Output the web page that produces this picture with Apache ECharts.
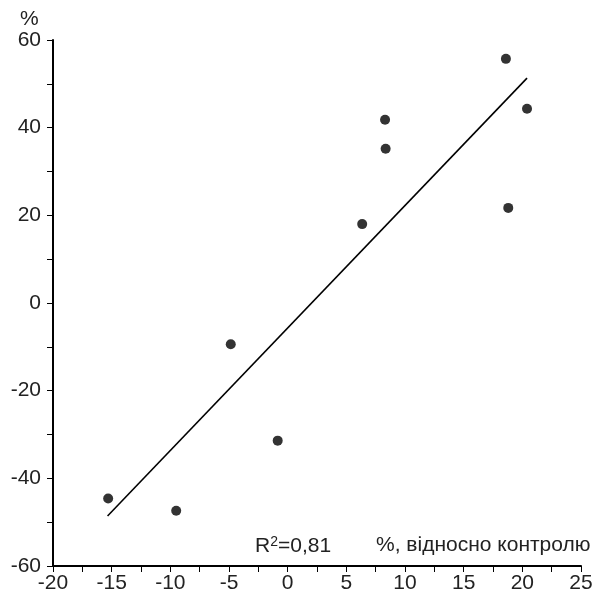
<!DOCTYPE html>
<html><head><meta charset="utf-8">
<script src="https://cdn.jsdelivr.net/npm/echarts@6/dist/echarts.min.js"></script>
<style>html,body{margin:0;padding:0;background:#fff}#c{width:598px;height:595px}</style>
</head><body><div id="c"></div>
<script>
const pointsX = [-15.3, -9.5, -4.85, -0.85, 6.35, 8.3, 8.35, 18.6, 18.8, 20.4];
const pointsY = [-44.6, -47.4, -9.4, -31.4, 18.0, 41.8, 35.2, 55.7, 21.7, 44.3];
const trendX = [-15.35, 20.4];
const trendY = [-48.6, 51.3];
const xTicks = [-20, -15, -10, -5, 0, 5, 10, 15, 20, 25];
const yTicks = [-60, -40, -20, 0, 20, 40, 60];
const r2Text = '0,81';
const xTitle = '%, відносно контролю';
const yTitle = '%';

const chart = echarts.init(document.getElementById('c'), null, {renderer: 'canvas'});
const font = 'Liberation Sans, Arial, sans-serif';
const FS = 21;
const axisCommon = {
  axisLine: {show: true, onZero: false, lineStyle: {color: '#000', width: 2}},
  axisTick: {show: true, inside: false, length: 6, lineStyle: {color: '#000', width: 1}},
  minorTick: {show: true, splitNumber: 2, length: 6, lineStyle: {color: '#000', width: 1}},
  splitLine: {show: false},
  axisLabel: {color: '#222', fontSize: FS, fontFamily: font}
};
chart.setOption({
  animation: false,
  grid: {left: 53, right: 17, top: 40, bottom: 29, containLabel: false},
  xAxis: Object.assign({}, axisCommon, {
    type: 'value', min: xTicks[0], max: xTicks[xTicks.length - 1], interval: 5,
    axisLabel: Object.assign({}, axisCommon.axisLabel, {margin: 7})
  }),
  yAxis: Object.assign({}, axisCommon, {
    type: 'value', min: yTicks[0], max: yTicks[yTicks.length - 1], interval: 20,
    axisLabel: Object.assign({}, axisCommon.axisLabel, {margin: 12})
  }),
  graphic: [
    {type: 'text', left: 20, top: 9, style: {text: yTitle, fontSize: FS, fontFamily: font, fill: '#222'}},
    {type: 'text', left: 255, top: 535, style: {
      text: '{r|R}{s|2}{r|=' + r2Text + '}',
      rich: {
        r: {fontSize: FS, fontFamily: font, fill: '#222', lineHeight: 22},
        s: {fontSize: 14, fontFamily: font, fill: '#222', lineHeight: 22, padding: [0, 0, 9, 0]}
      }
    }},
    {type: 'text', left: 376, top: 535, style: {text: xTitle, fontSize: FS, fontFamily: font, fill: '#222'}}
  ],
  series: [
    {type: 'line', data: trendX.map((x, i) => [x, trendY[i]]), symbol: 'none',
     lineStyle: {color: '#000', width: 1.6}, z: 2},
    {type: 'scatter', data: pointsX.map((x, i) => [x, pointsY[i]]), symbol: 'circle', symbolSize: 10,
     itemStyle: {color: '#000'}, z: 3}
  ]
});
</script></body></html>
